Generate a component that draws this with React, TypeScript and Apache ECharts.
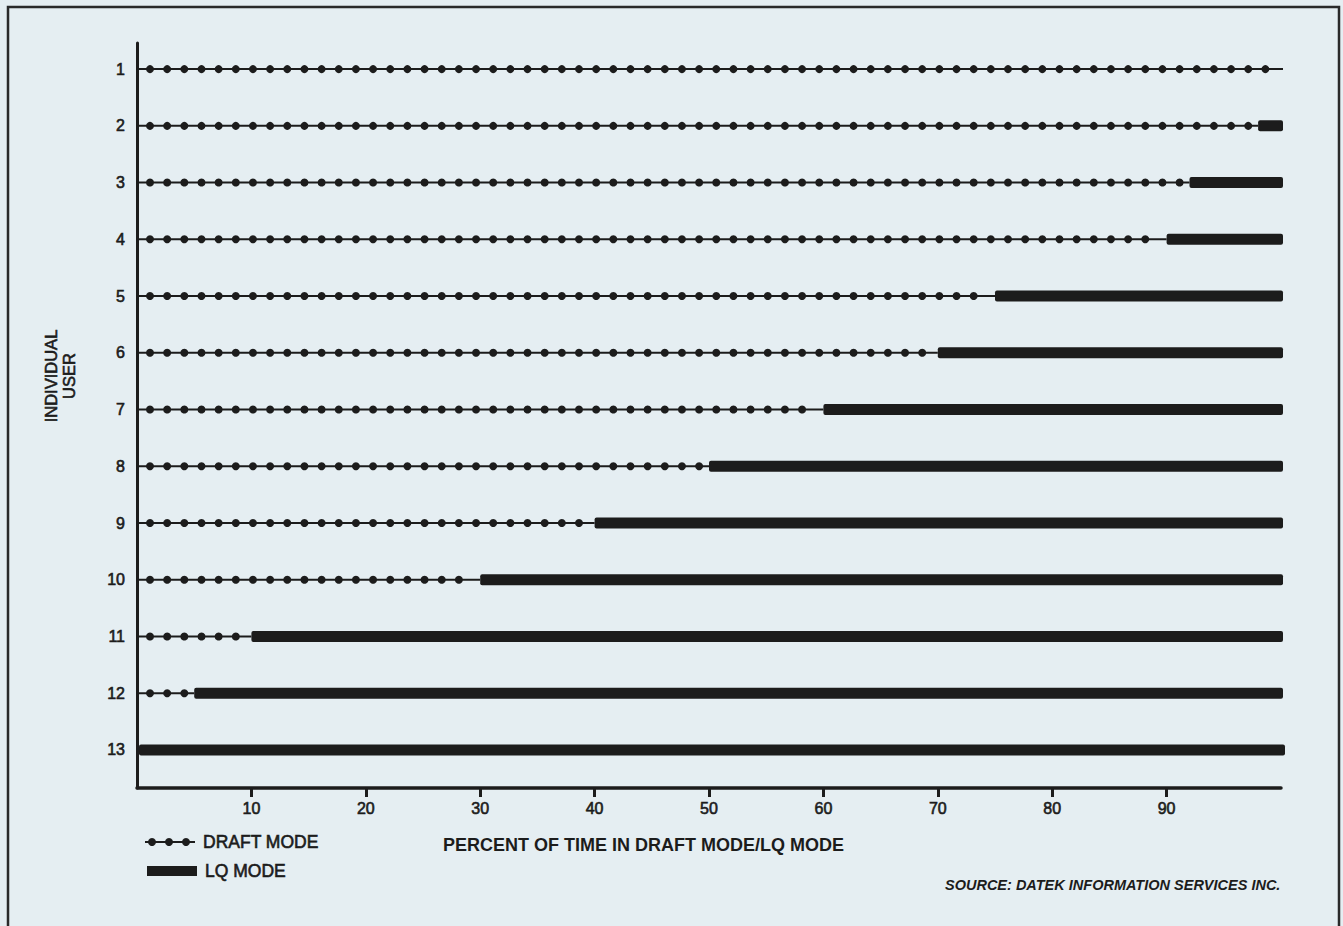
import React, { useEffect, useRef } from "react";
import * as echarts from "echarts";

const users = ["1", "2", "3", "4", "5", "6", "7", "8", "9", "10", "11", "12", "13"];
const userPos = [1, 2, 3, 4, 5, 6, 7, 8, 9, 10, 11, 12, 13];
const draftPct = [100, 98, 92, 90, 75, 70, 60, 50, 40, 30, 10, 5, 0];
const lqPct = [0, 2, 8, 10, 25, 30, 40, 50, 60, 70, 90, 95, 100];
const xTicks = [10, 20, 30, 40, 50, 60, 70, 80, 90];

const INK = "#1c1c1c";
const FONT = "'Liberation Sans', Arial, Helvetica, sans-serif";

export default function App() {
  const ref = useRef<HTMLDivElement>(null);
  useEffect(() => {
    if (!ref.current) return;
    const chart = echarts.init(ref.current, null, { renderer: "svg" });
    const draftData = userPos.map((u, i) => [draftPct[i], u]);
    const lqData = userPos.map((u, i) => [draftPct[i], lqPct[i], u]);
    const medium = { stroke: INK, lineWidth: 0.6 };
    chart.setOption({
      animation: false,
      backgroundColor: "#e5eef2",
      grid: { left: 137, right: 62, top: 43, bottom: 138 },
      xAxis: {
        type: "value",
        min: 0,
        max: 100,
        interval: 10,
        splitLine: { show: false },
        axisLine: { show: true, lineStyle: { color: INK, width: 3.5 } },
        axisTick: { show: true, customValues: xTicks, length: 9, lineStyle: { color: INK, width: 3 } },
        axisLabel: {
          customValues: xTicks,
          color: INK,
          fontSize: 16,
          fontFamily: FONT,
          margin: 12,
          textBorderColor: INK,
          textBorderWidth: 0.6,
        },
      },
      yAxis: {
        type: "value",
        inverse: true,
        min: 0.54,
        max: 13.67,
        splitLine: { show: false },
        axisLine: { show: true, lineStyle: { color: INK, width: 3 } },
        axisTick: { show: false },
        axisLabel: {
          customValues: userPos,
          formatter: (v: number) => users[Math.round(v) - 1],
          color: INK,
          fontSize: 16,
          fontFamily: FONT,
          margin: 12,
          textBorderColor: INK,
          textBorderWidth: 0.6,
        },
      },
      series: [
        {
          name: "DRAFT MODE",
          type: "custom",
          data: draftData,
          encode: { x: 0, y: 1 },
          renderItem: (params: any, api: any) => {
            const d = api.value(0);
            const u = api.value(1);
            const p0 = api.coord([0, u]);
            const p1 = api.coord([d, u]);
            const pitch = api.size([1.5, 0])[0];
            const children: any[] = [];
            if (d > 0) {
              children.push({
                type: "line",
                shape: { x1: p0[0] + 2, y1: p0[1], x2: p1[0] + (d >= 100 ? 2 : 0), y2: p1[1] },
                style: { stroke: INK, lineWidth: 2 },
              });
              for (let x = p0[0] + 13; x <= p1[0] - 5; x += pitch) {
                children.push({
                  type: "circle",
                  shape: { cx: x, cy: p0[1], r: 4 },
                  style: { fill: INK },
                });
              }
            }
            return { type: "group", children };
          },
        },
        {
          name: "LQ MODE",
          type: "custom",
          data: lqData,
          encode: { x: [0, 1], y: 2 },
          renderItem: (params: any, api: any) => {
            const s = api.value(0);
            const l = api.value(1);
            const u = api.value(2);
            if (l <= 0) return { type: "group", children: [] };
            const p0 = api.coord([s, u]);
            const p1 = api.coord([s + l, u]);
            return {
              type: "rect",
              shape: { x: p0[0] + (s === 0 ? 2 : 0), y: p0[1] - 5.5, width: p1[0] - p0[0] + 2, height: 11, r: 2 },
              style: { fill: INK },
            };
          },
        },
      ],
      graphic: [
        {
          type: "rect",
          shape: { x: 8, y: 7, width: 1331, height: 940 },
          style: { fill: "none", stroke: "#2a2a2a", lineWidth: 2.5 },
          silent: true,
        },
        {
          type: "text",
          x: 60,
          y: 376,
          rotation: Math.PI / 2,
          style: {
            text: "INDIVIDUAL\nUSER",
            fill: INK,
            font: `16.5px ${FONT}`,
            align: "center",
            verticalAlign: "middle",
            lineHeight: 18,
            ...medium,
          },
        },
        {
          type: "line",
          shape: { x1: 145, y1: 842, x2: 195, y2: 842 },
          style: { stroke: INK, lineWidth: 2 },
        },
        { type: "circle", shape: { cx: 152, cy: 842, r: 4 }, style: { fill: INK } },
        { type: "circle", shape: { cx: 169, cy: 842, r: 4 }, style: { fill: INK } },
        { type: "circle", shape: { cx: 186, cy: 842, r: 4 }, style: { fill: INK } },
        {
          type: "text",
          x: 203,
          y: 842,
          style: { text: "DRAFT MODE", fill: INK, font: `17.5px ${FONT}`, verticalAlign: "middle", ...medium },
        },
        {
          type: "rect",
          shape: { x: 147, y: 866, width: 50, height: 10 },
          style: { fill: INK },
        },
        {
          type: "text",
          x: 205,
          y: 871,
          style: { text: "LQ MODE", fill: INK, font: `17.5px ${FONT}`, verticalAlign: "middle", ...medium },
        },
        {
          type: "text",
          x: 443,
          y: 845,
          style: {
            text: "PERCENT OF TIME IN DRAFT MODE/LQ MODE",
            fill: INK,
            font: `bold 18px ${FONT}`,
            verticalAlign: "middle",
          },
        },
        {
          type: "text",
          x: 945,
          y: 885,
          style: {
            text: "SOURCE: DATEK INFORMATION SERVICES INC.",
            fill: INK,
            font: `italic bold 14.5px ${FONT}`,
            verticalAlign: "middle",
          },
        },
      ],
    });
    return () => chart.dispose();
  }, []);
  return (
    <div
      ref={ref}
      style={{ position: "fixed", left: 0, top: 0, width: 1343, height: 926 }}
    />
  );
}
